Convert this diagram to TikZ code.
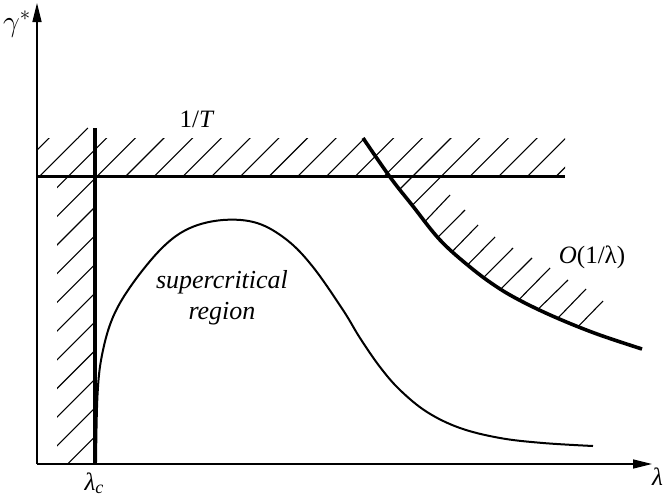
\documentclass[tikz,border=0pt]{standalone}
\usepackage{fontspec}
\setmainfont{Liberation Serif}
\usetikzlibrary{arrows.meta}
\begin{document}
\begin{tikzpicture}[x=1pt,y=-1pt,
  axis/.style={line width=1.4pt,-{Triangle[length=19pt,width=9pt]}},
  thickline/.style={line width=3.6pt},
  thincurve/.style={line width=2pt},
  hatch/.style={line width=1.1pt},
  lbl/.style={inner sep=0pt,font=\fontsize{25}{25}\selectfont}]
\useasboundingbox (0,0) rectangle (663,499);
% axes
\coordinate (O) at (37,464);
\coordinate (ytop) at (37,3);
\coordinate (xend) at (652,464);
% top hatching
\begin{scope}
\clip (37,138) rectangle (565,176.5);
\foreach \k in {-1,...,18}{
  \pgfmathsetmacro\c{215.9+28.7*\k}
  \draw[hatch] ({\c-200},200) -- ({\c-100},100);
}
\end{scope}
\draw[hatch] (77.9,138) -- (87.9,128);
% left hatching
\begin{scope}
\clip (57,176.5) rectangle (95,464);
\foreach \k in {1,...,11}{
  \pgfmathsetmacro\c{215.9+28.7*\k}
  \draw[hatch] ({\c-500},500) -- ({\c-100},100);
}
\end{scope}
% right hatching along O(1/lambda)
\draw[hatch] (399.7,189.3) -- (412.5,176.5);
\draw[hatch] (412.3,205.3) -- (441.1,176.5);
\draw[hatch] (425.1,221.3) -- (450,195);
\draw[hatch] (437.8,237.3) -- (465,210);
\draw[hatch] (452.5,251.3) -- (478,225);
\draw[hatch] (467.6,264.9) -- (495,237);
\draw[hatch] (483.9,277.3) -- (513,248);
\draw[hatch] (500.7,289.2) -- (532,258);
\draw[hatch] (518.9,299.7) -- (550,268);
\draw[hatch] (538.2,309.1) -- (568,280);
\draw[hatch] (557.7,318.3) -- (586,289);
\draw[hatch] (578.2,326.5) -- (603,301);
% axes lines
\draw[axis] (O) -- (ytop);
\draw[axis] (O) -- (xend);
% thick lines
\coordinate (hl) at (37,176.5);
\coordinate (hr) at (565,176.5);
\coordinate (vt) at (95,128);
\coordinate (vb) at (95,464);
\draw[thickline] (hl) -- (hr);
\draw[thickline] (vb) -- (vt);
\draw[thickline] plot[smooth,tension=0.6] coordinates {(363,138) (390,177) (412,205) (440,240) (470,267) (497,287) (523,302) (557,318) (597,334) (642,349)};
% supercritical curve
\draw[thincurve] plot[smooth,tension=0.6] coordinates {(96,462) (97.5,395) (102,355) (113,317) (133,283) (163,247) (190,228) (223,220) (257,223) (287,240) (313,267) (343,310) (360,338) (380,367) (400,390) (427,412) (460,428) (500,438) (543,443) (593,446)};
% labels
\node[lbl] (gam) at (17,24) {\scalebox{1.2}{$\gamma^*$}};
\node[lbl,anchor=west] (xl) at (652,477) {\textit{λ}};
\node[lbl] (lc) at (94,483) {\textit{λ}\raisebox{-3pt}{\fontsize{18}{18}\selectfont\textit{c}}};
\node[lbl] (T) at (197,119) {1/\textit{T}};
\node[lbl,align=center,font=\fontsize{26}{31}\selectfont\itshape] (sr) at (222,298) {supercritical\\region};
\node[lbl] (ol) at (592,257) {\textit{O}(1/λ)};
\end{tikzpicture}
\end{document}
